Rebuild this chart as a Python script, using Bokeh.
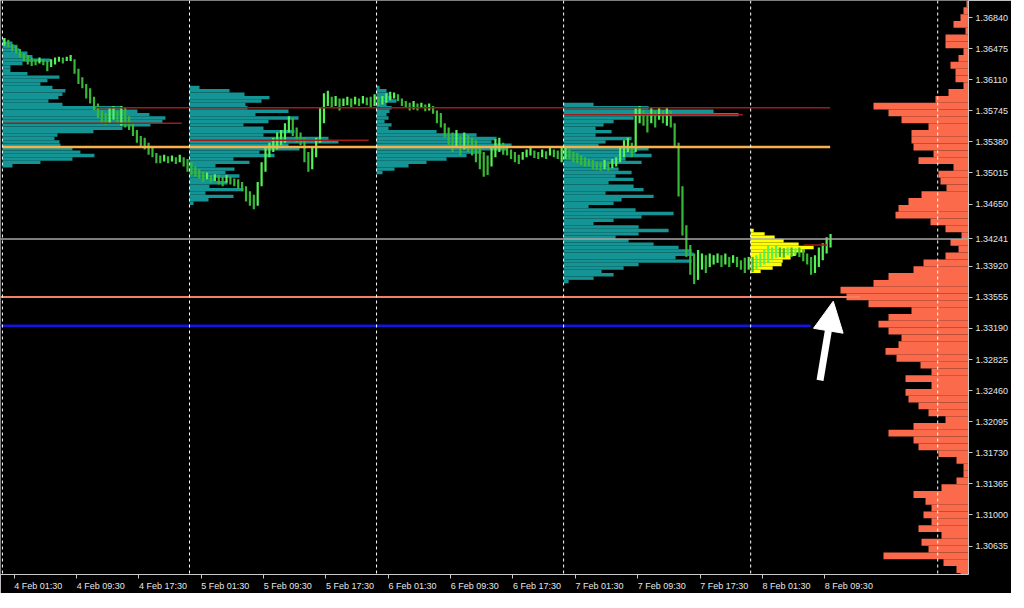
import numpy as np
from bokeh.plotting import figure
from bokeh.models import (Range1d, LinearAxis, FixedTicker, PrintfTickFormatter,
                          CustomJSTickFormatter, Span, Arrow, NormalHead)
from bokeh.embed import file_html
from bokeh.resources import INLINE

# ---------------- data ----------------
# 30-minute bars, hours counted from 4 Feb 00:00
day1_high = [1.3660,1.3658,1.3653,1.3651,1.3647,1.3642,1.3640,1.3637,1.3635,1.3637,1.3635,1.3633,1.3635,1.3637,1.3638,1.3637,
             1.3638,1.3640,1.3635,1.3624,1.3614,1.3606,1.3601,1.3591,1.3583,1.3575,1.3572,1.3578,1.3580,1.3575,1.3580,1.3578,
             1.3568,1.3560,1.3552,1.3545,1.3543,1.3537,1.3532,1.3525,1.3522,1.3523,1.3521,1.3522,1.3520,1.3523,1.3520,1.3518]
day1_low = [1.3651,1.3649,1.3644,1.3642,1.3637,1.3633,1.3629,1.3627,1.3628,1.3630,1.3628,1.3621,1.3626,1.3629,1.3632,1.3630,
            1.3633,1.3633,1.3618,1.3606,1.3601,1.3589,1.3583,1.3575,1.3566,1.3560,1.3558,1.3560,1.3564,1.3559,1.3557,1.3555,
            1.3552,1.3545,1.3537,1.3532,1.3529,1.3523,1.3520,1.3513,1.3513,1.3515,1.3513,1.3515,1.3512,1.3514,1.3509,1.3503]
day2_high = [1.3514,1.3509,1.3506,1.3503,1.3502,1.3499,1.3500,1.3499,1.3497,1.3499,1.3497,1.3495,1.3494,1.3491,1.3486,1.3480,
             1.3476,1.3491,1.3514,1.3532,1.3537,1.3543,1.3549,1.3552,1.3560,1.3568,1.3566,1.3555,1.3549,1.3543,1.3526,1.3532,
             1.3543,1.3578,1.3595,1.3598,1.3591,1.3592,1.3589,1.3589,1.3591,1.3589,1.3591,1.3589,1.3592,1.3590,1.3591,1.3594]
day2_low = [1.3499,1.3497,1.3495,1.3491,1.3494,1.3490,1.3492,1.3488,1.3486,1.3490,1.3488,1.3486,1.3483,1.3480,1.3468,1.3463,
            1.3459,1.3463,1.3486,1.3503,1.3520,1.3526,1.3529,1.3534,1.3537,1.3549,1.3545,1.3537,1.3534,1.3514,1.3503,1.3506,
            1.3520,1.3537,1.3560,1.3580,1.3578,1.3580,1.3575,1.3580,1.3581,1.3578,1.3582,1.3580,1.3583,1.3581,1.3578,1.3580]
day3_high = [1.3591,1.3592,1.3595,1.3597,1.3596,1.3594,1.3589,1.3586,1.3584,1.3586,1.3583,1.3584,1.3582,1.3583,1.3580,1.3575,
             1.3572,1.3560,1.3555,1.3549,1.3552,1.3545,1.3549,1.3546,1.3543,1.3540,1.3532,1.3526,1.3522,1.3532,1.3541,1.3543,
             1.3537,1.3534,1.3529,1.3526,1.3523,1.3526,1.3529,1.3532,1.3528,1.3526,1.3529,1.3527,1.3532,1.3529,1.3528,1.3532]
day3_low = [1.3580,1.3582,1.3584,1.3587,1.3589,1.3586,1.3580,1.3578,1.3575,1.3576,1.3575,1.3578,1.3574,1.3575,1.3571,1.3560,
            1.3555,1.3543,1.3534,1.3526,1.3532,1.3522,1.3529,1.3526,1.3522,1.3514,1.3506,1.3497,1.3499,1.3509,1.3520,1.3526,
            1.3523,1.3522,1.3518,1.3514,1.3512,1.3517,1.3520,1.3522,1.3519,1.3518,1.3520,1.3518,1.3522,1.3520,1.3518,1.3514]
day4_high = [1.3532,1.3529,1.3526,1.3525,1.3522,1.3520,1.3518,1.3517,1.3515,1.3514,1.3517,1.3514,1.3518,1.3520,1.3532,1.3540,
             1.3543,1.3537,1.3578,1.3580,1.3575,1.3572,1.3578,1.3575,1.3578,1.3575,1.3578,1.3575,1.3560,1.3537,1.3486,1.3440,
             1.3417,1.3407,1.3411,1.3407,1.3405,1.3407,1.3405,1.3407,1.3405,1.3407,1.3403,1.3405,1.3403,1.3399,1.3402,1.3403]
day4_low = [1.3518,1.3518,1.3514,1.3513,1.3511,1.3509,1.3509,1.3506,1.3505,1.3504,1.3506,1.3504,1.3507,1.3509,1.3514,1.3520,
            1.3526,1.3520,1.3526,1.3560,1.3557,1.3549,1.3560,1.3555,1.3564,1.3560,1.3557,1.3555,1.3532,1.3474,1.3428,1.3403,
            1.3382,1.3371,1.3376,1.3388,1.3384,1.3391,1.3394,1.3396,1.3391,1.3394,1.3391,1.3396,1.3391,1.3388,1.3384,1.3388]
day5_high = [1.3403,1.3405,1.3407,1.3411,1.3417,1.3414,1.3417,1.3414,1.3413,1.3414,1.3414,1.3413,1.3414,1.3412,1.3407,1.3403,
             1.3405,1.3414,1.3419,1.3426,1.3430]
day5_low = [1.3385,1.3388,1.3391,1.3394,1.3396,1.3399,1.3402,1.3403,1.3402,1.3405,1.3403,1.3405,1.3403,1.3398,1.3394,1.3382,
            1.3384,1.3391,1.3399,1.3407,1.3414]

# daily volume profiles on a shared price grid (bin tops)
profile_levels = [1.3660,1.3656,1.3652,1.3648,1.3644,1.3640,1.3636,1.3632,1.3628,1.3624,1.3620,1.3616,1.3612,1.3608,1.3604,
                  1.3600,1.3596,1.3592,1.3588,1.3584,1.3580,1.3576,1.3572,1.3568,1.3564,1.3560,1.3556,1.3552,1.3548,1.3544,
                  1.3540,1.3536,1.3532,1.3528,1.3524,1.3520,1.3516,1.3512,1.3508,1.3504,1.3500,1.3496,1.3492,1.3488,1.3484,
                  1.3480,1.3476,1.3472,1.3468,1.3464,1.3460,1.3456,1.3452,1.3448,1.3444,1.3440,1.3436,1.3432,1.3428,1.3424,
                  1.3420,1.3416,1.3412,1.3408,1.3404,1.3400,1.3396,1.3392,1.3388,1.3384,1.3380,1.3376,1.3372]
day1_volume = [3,10,15,17,25,30,48,20,8,8,25,57,45,38,50,63,60,56,46,60,120,135,147,163,160,148,120,91,55,52,57,58,70,78,92,70,38,10] + [0] * 35
day2_volume = [0] * 14 + [10,40,55,80,72,56,58,99,66,109,79,54,74,105,74,139,149,99,110,70,85,44,60,26,45,36,50,26,38,20,54,16,44,19,4] + [0] * 24
day3_volume = [0] * 14 + [3,10,12,15,20,10,15,13,10,12,8,15,12,60,100,120,115,135,130,105,90,70,50,32,18,6] + [0] * 33
day4_volume = [0] * 19 + [30,85,150,175,70,50,40,32,48,32,68,42,35,85,72,88,62,78,45,55,68,52,70,45,70,80,42,90,58,50,
                          25,72,110,78,50,30,75,105,75,52,65,90,115,128,130,112,128,75,60,38,50,30,5] + [0]
day5_volume = [0] * 56 + [3,14,24,33,48,63,54,45,40,32,31,22,10] + [0] * 4
day_start_hours = [0, 24, 48, 72, 96]

# long-period market profile anchored on the right edge (bin tops)
market_levels = [1.3704,1.3696,1.3688,1.3680,1.3672,1.3664,1.3656,1.3648,1.3640,1.3632,1.3624,1.3616,1.3608,1.3600,1.3592,
                 1.3584,1.3576,1.3568,1.3560,1.3552,1.3544,1.3536,1.3528,1.3520,1.3512,1.3504,1.3496,1.3488,1.3480,1.3472,
                 1.3464,1.3456,1.3448,1.3440,1.3432,1.3424,1.3416,1.3408,1.3400,1.3392,1.3384,1.3376,1.3368,1.3360,1.3352,
                 1.3344,1.3336,1.3328,1.3320,1.3312,1.3304,1.3296,1.3288,1.3280,1.3272,1.3264,1.3256,1.3248,1.3240,1.3232,
                 1.3224,1.3216,1.3208,1.3200,1.3192,1.3184,1.3176,1.3168,1.3160,1.3152,1.3144,1.3136,1.3128,1.3120,1.3112,
                 1.3104,1.3096,1.3088,1.3080,1.3072,1.3064,1.3056,1.3048,1.3040,1.3032]
market_volume = [2,5,8,15,3,23,23,5,10,18,13,13,5,20,33,95,80,67,40,57,57,55,35,50,15,30,28,22,47,60,70,73,38,23,7,
                 18,10,23,45,55,80,95,128,122,100,57,80,90,80,67,70,83,72,48,37,63,37,63,60,50,40,23,55,80,55,50,30,12,
                 5,5,12,27,55,43,37,45,37,50,27,47,40,85,25,12,8]

# horizontal levels
level_price = [1.3578, 1.3560, 1.3540, 1.3570, 1.3417, 1.3532, 1.3356, 1.3322]
level_start = [12.0, 0.0, 24.0, 72.0, 102.8, 0.0, -0.3, -0.3]
level_end = [106.2, 23.0, 47.0, 95.0, 105.8, 106.2, 110.0, 103.7]
level_color = ["#a31a1a", "#a31a1a", "#a31a1a", "#a31a1a", "#a31a1a", "#f9b04e", "#f5805f", "#1414dc"]
level_width = [1.5, 1.5, 1.5, 1.5, 1.5, 2.5, 2.0, 2.5]
current_price = 1.34241

# axes (1.34285 is covered by the current-price marker in the reference)
y_ticks = [1.30635, 1.31000, 1.31365, 1.31730, 1.32095, 1.32460, 1.32825, 1.33190, 1.33555,
           1.33920, 1.34241, 1.34650, 1.35015, 1.35380, 1.35745, 1.36110, 1.36475, 1.36840]
x_tick_hours = [1.5, 9.5, 17.5, 25.5, 33.5, 41.5, 49.5, 57.5, 65.5, 73.5, 81.5, 89.5, 97.5, 105.5]
x_tick_labels = ["4 Feb 01:30", "4 Feb 09:30", "4 Feb 17:30", "5 Feb 01:30", "5 Feb 09:30", "5 Feb 17:30",
                 "6 Feb 01:30", "6 Feb 09:30", "6 Feb 17:30", "7 Feb 01:30", "7 Feb 09:30", "7 Feb 17:30",
                 "8 Feb 01:30", "8 Feb 09:30"]
separator_hours = [0, 24, 48, 72, 96, 120]

arrow_tail = (104.9, 1.3258)
arrow_tip = (106.6, 1.3351)

# ---------------- figure ----------------
X0, X1 = -0.25, 123.95
Y0, Y1 = 1.30301, 1.37040
FONT = "Liberation Sans"
FRAME_W, FRAME_H = 968, 574
px_per_hour = FRAME_W / (X1 - X0)
vol_scale = 1.0 / px_per_hour

p = figure(frame_width=FRAME_W, frame_height=FRAME_H, output_backend="svg", toolbar_location=None,
           x_range=Range1d(X0, X1), y_range=Range1d(Y0, Y1),
           x_axis_location=None, y_axis_location=None,
           background_fill_color="black", border_fill_color="black",
           min_border_left=0, min_border_top=0, min_border_right=0, min_border_bottom=0)
p.outline_line_color = None
for g in p.grid:
    g.visible = False

# market profile (right)
ml = np.array(market_levels)
mstep = np.append(ml[:-1] - ml[1:], ml[-2] - ml[-1])
mv = np.array(market_volume, dtype=float)
p.quad(left=X1 - mv * vol_scale, right=X1, top=ml, bottom=ml - mstep,
       fill_color="#fa6a4b", line_color=None)

# daily profiles
pl = np.array(profile_levels)
pstep = np.append(pl[:-1] - pl[1:], pl[-2] - pl[-1])
day_vols = [day1_volume, day2_volume, day3_volume, day4_volume, day5_volume]
day_cols = ["#149494", "#149494", "#149494", "#149494", "#ffff00"]
for start, vols, col in zip(day_start_hours, day_vols, day_cols):
    v = np.array(vols, dtype=float)
    m = v > 0
    p.quad(left=start, right=start + v[m] * vol_scale, top=pl[m], bottom=pl[m] - pstep[m],
           fill_color=col, line_color=None)

# price bars
highs = np.array(day1_high + day2_high + day3_high + day4_high + day5_high)
lows = np.array(day1_low + day2_low + day3_low + day4_low + day5_low)
t = np.arange(len(highs)) * 0.5 + 0.25
mid = (highs + lows) / 2
up = np.concatenate([[True], mid[1:] >= mid[:-1]])
cols = np.where(up, "#55f255", "#37b837")
p.segment(x0=t, y0=lows, x1=t, y1=highs, line_color=list(cols), line_width=2.2)

# level lines
p.segment(x0=level_start, y0=level_price, x1=level_end, y1=level_price,
          line_color=level_color, line_width=level_width)

p.add_layout(Span(location=current_price, dimension="width", line_color="#a8a8a8", line_width=1.5))
for h in separator_hours:
    p.add_layout(Span(location=h, dimension="height", line_color="white", line_width=1, line_dash="3 3"))

p.add_layout(Arrow(end=NormalHead(size=30, fill_color="white", line_color="white"),
                   x_start=arrow_tail[0], y_start=arrow_tail[1], x_end=arrow_tip[0], y_end=arrow_tip[1],
                   line_color="white", line_width=7))

# axes
yax = LinearAxis(ticker=FixedTicker(ticks=y_ticks), formatter=PrintfTickFormatter(format="%.5f"),
                 axis_line_color="#c8c8c8", major_tick_line_color="#c8c8c8",
                 major_tick_in=0, major_tick_out=4, major_label_standoff=3,
                 major_label_text_color="#e6e6e6", major_label_text_font=FONT,
                 major_label_text_font_size="9px")
p.add_layout(yax, "right")

xax_ticks = LinearAxis(ticker=FixedTicker(ticks=x_tick_hours),
                       axis_line_color="#c8c8c8", major_tick_line_color="#c8c8c8",
                       major_tick_in=0, major_tick_out=4, major_label_standoff=0,
                       major_label_text_font_size="1px", major_label_text_color=None)
p.add_layout(xax_ticks, "below")

label_pos = [h + 3.1 for h in x_tick_hours]
xax_labels = LinearAxis(ticker=FixedTicker(ticks=label_pos),
                        formatter=CustomJSTickFormatter(args=dict(pos=label_pos, labels=x_tick_labels), code="""
                            let best = 0, bd = 1e9;
                            for (let i = 0; i < pos.length; i++) {
                                const d = Math.abs(pos[i] - tick);
                                if (d < bd) { bd = d; best = i; }
                            }
                            return labels[best];
                        """),
                        axis_line_color=None, major_tick_line_color=None,
                        major_tick_in=0, major_tick_out=0, major_label_standoff=2,
                        major_label_text_color="#e6e6e6", major_label_text_font=FONT,
                        major_label_text_font_size="9px")
p.add_layout(xax_labels, "below")

open("out.html", "w").write(file_html(p, INLINE))
